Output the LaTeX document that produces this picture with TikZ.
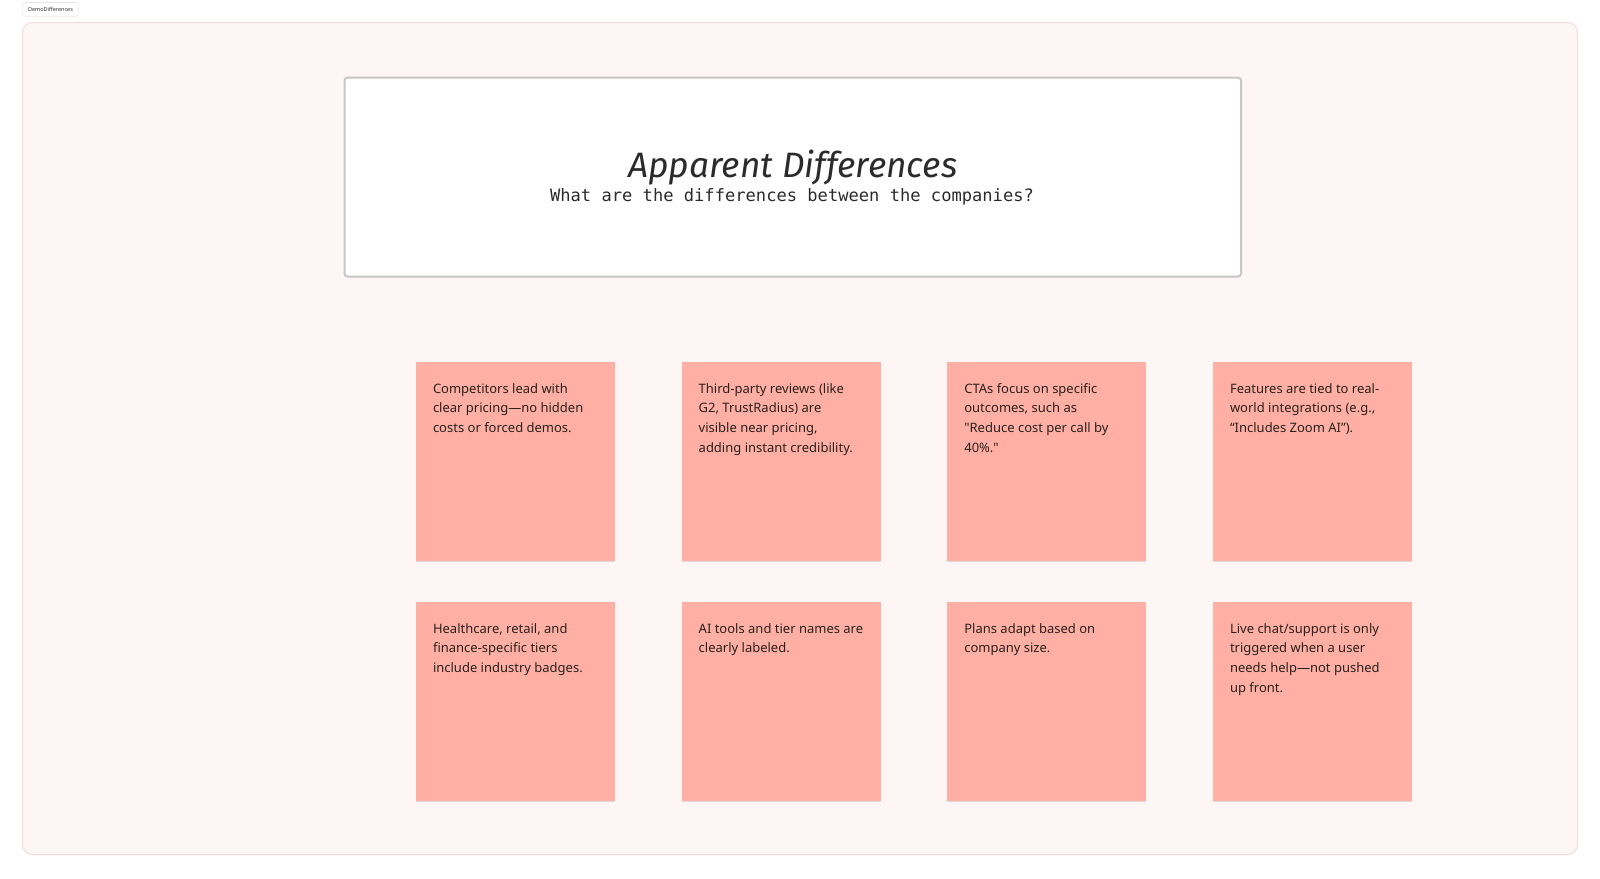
\documentclass[tikz,border=0pt]{standalone}
\usepackage{fontspec}
\setmainfont{Noto Sans}[Ligatures=TeXOff]
\newfontfamily\monofont{DejaVu Sans Mono}
\newfontfamily\handfont{Fira Sans}
\usetikzlibrary{shadows}
\definecolor{framefill}{HTML}{FEF5F5}
\definecolor{frameline}{HTML}{F2DCDC}
\definecolor{stickyfill}{HTML}{FFAFA3}
\definecolor{stickytext}{HTML}{2A201E}
\definecolor{titleline}{HTML}{C6C6C6}
\definecolor{titletext}{HTML}{2B2B2B}
\tikzset{
  sticky/.style={fill=stickyfill, draw=none, minimum width=199pt, minimum height=198.5pt, inner sep=0pt,
    drop shadow={shadow xshift=0pt, shadow yshift=-1.5pt, opacity=0.12, fill=black}},
  stickylabel/.style={anchor=north west, inner sep=0pt, align=left, text=stickytext,
    font=\fontsize{13}{19.9}\selectfont},
}
\newcommand{\fl}{\rule{0pt}{14pt}}
\begin{document}
\begin{tikzpicture}[x=1pt,y=-1pt]
\useasboundingbox (0,0) rectangle (1600,878);
\fill[white] (0,0) rectangle (1600,878);
% frame
\draw[frameline, fill=framefill, line width=1pt, rounded corners=10pt] (22.5,22.5) rectangle (1577.5,854.5);
% tag
\node[draw=black!15, fill=white, rounded corners=1.5pt, minimum width=56pt, minimum height=13.5pt, inner sep=0pt,
  font=\fontsize{5.5}{6}\selectfont, text=black!80] (tag) at (50.5,9.3) {DemoDifferences};
% title box
\node[draw=titleline, fill=white, line width=2pt, rounded corners=3pt, minimum width=896.5pt, minimum height=199pt, inner sep=0pt] (titlebox) at (792.75,177) {};
\node[anchor=base, inner sep=0pt, text=titletext, font=\handfont\itshape\fontsize{35.3}{37}\selectfont] (title) at (792.8,177) {Apparent Differences};
\node[anchor=base, inner sep=0pt, text=titletext, font=\monofont\fontsize{17.1}{20}\selectfont] (subtitle) at (792,201.5) {What are the differences between the companies?};
% stickies
\node[sticky] (s1) at (515.5,461.25) {};
\node[sticky] (s2) at (781.2,461.25) {};
\node[sticky] (s3) at (1046.8,461.25) {};
\node[sticky] (s4) at (1312.5,461.25) {};
\node[sticky] (s5) at (515.5,701.25) {};
\node[sticky] (s6) at (781.2,701.25) {};
\node[sticky] (s7) at (1046.8,701.25) {};
\node[sticky] (s8) at (1312.5,701.25) {};
\node[stickylabel] (t1) at ([xshift=17pt,yshift=-17pt]s1.north west) {\fl Competitors lead with\\clear pricing—no hidden\\costs or forced demos.};
\node[stickylabel] (t2) at ([xshift=17pt,yshift=-17pt]s2.north west) {\fl Third-party reviews (like\\G2, TrustRadius) are\\visible near pricing,\\adding instant credibility.};
\node[stickylabel] (t3) at ([xshift=17pt,yshift=-17pt]s3.north west) {\fl CTAs focus on specific\\outcomes, such as\\"Reduce cost per call by\\40\%."};
\node[stickylabel] (t4) at ([xshift=17pt,yshift=-17pt]s4.north west) {\fl Features are tied to real-\\world integrations (e.g.,\\“Includes Zoom AI”).};
\node[stickylabel] (t5) at ([xshift=17pt,yshift=-17pt]s5.north west) {\fl Healthcare, retail, and\\finance-specific tiers\\include industry badges.};
\node[stickylabel] (t6) at ([xshift=17pt,yshift=-17pt]s6.north west) {\fl AI tools and tier names are\\clearly labeled.};
\node[stickylabel] (t7) at ([xshift=17pt,yshift=-17pt]s7.north west) {\fl Plans adapt based on\\company size.};
\node[stickylabel] (t8) at ([xshift=17pt,yshift=-17pt]s8.north west) {\fl Live chat/support is only\\triggered when a user\\needs help—not pushed\\up front.};
\end{tikzpicture}
\end{document}
